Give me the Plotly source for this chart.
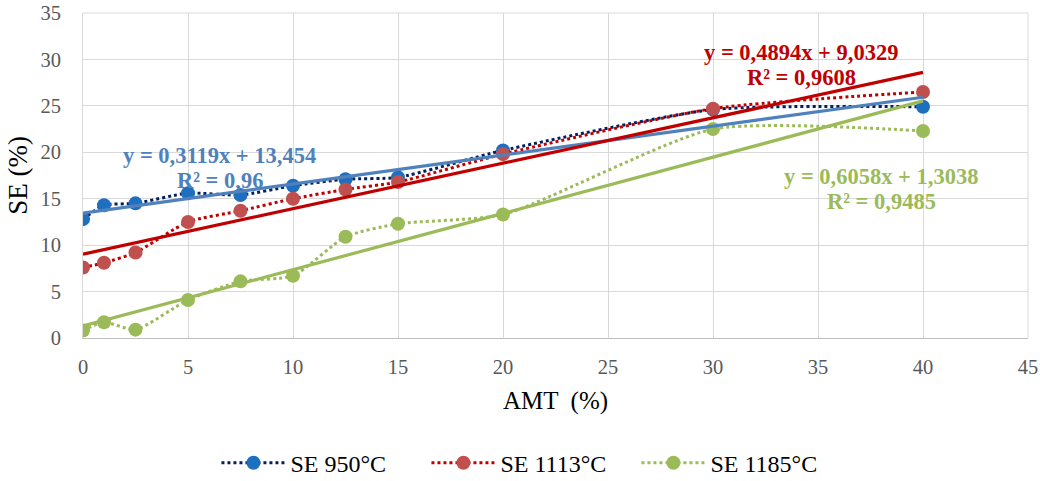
import plotly.graph_objects as go

amt = [0, 1, 2.5, 5, 7.5, 10, 12.5, 15, 20, 30, 40]
se_950 = [12.8, 14.3, 14.5, 15.6, 15.4, 16.4, 17.1, 17.3, 20.2, 24.6, 24.9]
se_1113 = [7.6, 8.1, 9.2, 12.5, 13.7, 15.0, 16.0, 16.8, 19.8, 24.7, 26.5]
se_1185 = [0.8, 1.7, 0.9, 4.1, 6.1, 6.7, 10.9, 12.3, 13.3, 22.5, 22.3]

names = ["SE 950°C", "SE 1113°C", "SE 1185°C"]
slopes = [0.3119, 0.4894, 0.6058]
intercepts = [13.454, 9.0329, 1.3038]
r2 = ["0,96", "0,9608", "0,9485"]
eq_text = ["y = 0,3119x + 13,454", "y = 0,4894x + 9,0329", "y = 0,6058x + 1,3038"]
trend_range = [0, 40]

line_cols = ["#002060", "#C00000", "#9BBB59"]
marker_cols = ["#1F6FC0", "#C0504D", "#9BBB59"]
trend_cols = ["#4F81BD", "#C00000", "#9BBB59"]
# (x, y of equation line, y of R² line) in data units
label_pos = [(6.5, 19.7, 17.0), (34.2, 30.7, 28.1), (38.0, 17.4, 14.7)]

FONT = "Liberation Serif, Times New Roman, serif"

fig = go.Figure()
for name, ys, lc, mc in zip(names, [se_950, se_1113, se_1185], line_cols, marker_cols):
    fig.add_trace(go.Scatter(
        x=amt, y=ys, name=name, mode="lines+markers",
        line=dict(color=lc, width=3, dash="dot", shape="spline", smoothing=0.6),
        marker=dict(color=mc, size=14),
    ))

for a, b, tc in zip(slopes, intercepts, trend_cols):
    fig.add_trace(go.Scatter(
        x=trend_range, y=[a * x + b for x in trend_range], mode="lines",
        line=dict(color=tc, width=3.2), showlegend=False, hoverinfo="skip",
    ))

for (px, py1, py2), eq, r, tc in zip(label_pos, eq_text, r2, trend_cols):
    fig.add_annotation(
        x=px, y=py1, xref="x", yref="y", showarrow=False,
        text=f"<b>{eq}</b>", font=dict(family=FONT, size=22.5, color=tc),
    )
    fig.add_annotation(
        x=px, y=py2, xref="x", yref="y", showarrow=False,
        text=f"<b>R² = {r}</b>", font=dict(family=FONT, size=22.5, color=tc),
    )

fig.update_layout(
    width=1040, height=481,
    margin=dict(l=83, r=12, t=13, b=143, autoexpand=False),
    paper_bgcolor="white", plot_bgcolor="white",
    font=dict(family=FONT, color="#595959", size=20.5),
    showlegend=True,
    legend=dict(orientation="h", x=0.511, xanchor="center", xref="container",
                y=0.037, yanchor="middle", yref="container",
                font=dict(family=FONT, size=24, color="black"),
                itemwidth=64, entrywidth=131, entrywidthmode="pixels"),
    xaxis=dict(
        range=[0, 45], dtick=5, tick0=0, showgrid=True, gridcolor="#D9D9D9", gridwidth=1,
        zeroline=False, showline=True, linecolor="#BFBFBF", linewidth=1,
        ticks="", ticklabelstandoff=10,
        title=dict(text="AMT  (%)", font=dict(family=FONT, size=25, color="black"), standoff=14),
    ),
    yaxis=dict(
        range=[0, 35], dtick=5, tick0=0, showgrid=True, gridcolor="#D9D9D9", gridwidth=1,
        zeroline=False, showline=True, linecolor="#D9D9D9", linewidth=1,
        ticks="", ticklabelstandoff=17,
        title=dict(text="SE (%)", font=dict(family=FONT, size=27, color="black"), standoff=4),
    ),
)
fig.add_shape(type="line", xref="paper", yref="paper", x0=0, x1=1, y0=1, y1=1,
              line=dict(color="#D9D9D9", width=1))
fig.add_shape(type="line", xref="paper", yref="paper", x0=1, x1=1, y0=0, y1=1,
              line=dict(color="#D9D9D9", width=1))

fig.write_html("out.html")
